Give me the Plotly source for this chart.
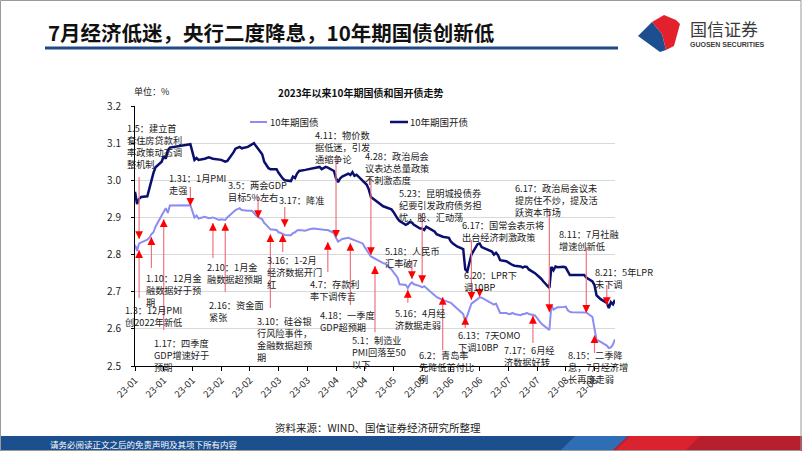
import plotly.graph_objects as go

# ---------------- data ----------------
dates = [
 "2023-01-03","2023-01-04","2023-01-05","2023-01-06","2023-01-09","2023-01-10","2023-01-11","2023-01-12","2023-01-13","2023-01-16","2023-01-17","2023-01-18","2023-01-19","2023-01-20","2023-01-30","2023-01-31",
 "2023-02-01","2023-02-02","2023-02-03","2023-02-06","2023-02-08","2023-02-10","2023-02-13","2023-02-14","2023-02-16","2023-02-17","2023-02-20","2023-02-21","2023-02-23","2023-02-24","2023-02-27",
 "2023-03-01","2023-03-02","2023-03-03","2023-03-06","2023-03-07","2023-03-08","2023-03-09","2023-03-10","2023-03-13","2023-03-14","2023-03-15","2023-03-16","2023-03-17","2023-03-20","2023-03-21","2023-03-22","2023-03-23","2023-03-24","2023-03-27","2023-03-29","2023-03-31",
 "2023-04-03","2023-04-04","2023-04-06","2023-04-07","2023-04-10","2023-04-11","2023-04-12","2023-04-13","2023-04-14","2023-04-17","2023-04-18","2023-04-19","2023-04-20","2023-04-21","2023-04-24","2023-04-25","2023-04-26","2023-04-27","2023-04-28",
 "2023-05-04","2023-05-05","2023-05-08","2023-05-09","2023-05-10","2023-05-11","2023-05-12","2023-05-15","2023-05-16","2023-05-17","2023-05-18","2023-05-19","2023-05-22","2023-05-23","2023-05-24","2023-05-25","2023-05-26","2023-05-29","2023-05-30","2023-05-31",
 "2023-06-01","2023-06-02","2023-06-05","2023-06-06","2023-06-07","2023-06-08","2023-06-09","2023-06-12","2023-06-13","2023-06-14","2023-06-15","2023-06-16","2023-06-19","2023-06-20","2023-06-21","2023-06-26","2023-06-27","2023-06-28","2023-06-29","2023-06-30",
 "2023-07-03","2023-07-04","2023-07-05","2023-07-06","2023-07-07","2023-07-10","2023-07-11","2023-07-12","2023-07-13","2023-07-14","2023-07-17","2023-07-18","2023-07-19","2023-07-20","2023-07-21","2023-07-24","2023-07-25","2023-07-26","2023-07-27","2023-07-28","2023-07-31",
 "2023-08-01","2023-08-02","2023-08-03","2023-08-04","2023-08-07","2023-08-08","2023-08-09","2023-08-10","2023-08-11","2023-08-14","2023-08-15","2023-08-16","2023-08-17","2023-08-18","2023-08-21","2023-08-22","2023-08-23","2023-08-24","2023-08-25"]

cdb_10y = [
 2.969,2.936,2.950,2.955,2.957,2.980,2.995,3.020,3.035,3.050,3.065,3.058,3.080,3.088,3.097,3.072,
 3.055,3.060,3.055,3.058,3.062,3.058,3.056,3.055,3.050,3.052,3.075,3.085,3.090,3.086,3.090,
 3.098,3.100,3.092,3.070,3.050,3.040,3.033,3.030,3.030,3.020,3.012,3.005,3.000,2.998,3.010,3.006,3.018,3.025,3.028,3.030,3.033,
 3.036,3.030,3.036,3.034,3.025,3.005,2.995,3.005,3.010,3.018,3.014,3.022,3.012,3.015,3.000,2.995,2.988,2.975,2.955,
 2.930,2.928,2.922,2.915,2.905,2.897,2.890,2.880,2.883,2.888,2.886,2.880,2.870,2.870,2.866,2.875,2.872,2.862,2.855,2.852,
 2.850,2.848,2.845,2.835,2.830,2.825,2.822,2.815,2.760,2.755,2.775,2.800,2.828,2.830,2.820,2.808,2.800,2.805,2.798,2.785,
 2.782,2.778,2.775,2.772,2.770,2.768,2.765,2.768,2.767,2.760,2.750,2.745,2.742,2.735,2.728,2.710,2.767,2.758,2.768,2.766,2.767,
 2.765,2.755,2.745,2.745,2.746,2.745,2.745,2.745,2.738,2.728,2.718,2.690,2.685,2.680,2.670,2.656,2.672,2.666,2.678]

gov_10y = [
 2.826,2.810,2.830,2.832,2.840,2.845,2.855,2.860,2.875,2.905,2.915,2.925,2.912,2.932,2.933,2.915,
 2.900,2.905,2.897,2.902,2.898,2.900,2.893,2.895,2.893,2.900,2.915,2.920,2.925,2.920,2.918,
 2.918,2.912,2.905,2.895,2.885,2.880,2.875,2.868,2.866,2.860,2.858,2.856,2.853,2.852,2.858,2.860,2.865,2.866,2.864,2.868,2.870,
 2.868,2.867,2.866,2.866,2.858,2.845,2.835,2.838,2.842,2.845,2.843,2.840,2.838,2.835,2.830,2.820,2.812,2.805,2.795,
 2.777,2.775,2.760,2.752,2.745,2.738,2.720,2.718,2.710,2.720,2.725,2.720,2.715,2.712,2.715,2.710,2.705,2.690,2.686,2.683,
 2.680,2.678,2.672,2.670,2.665,2.660,2.655,2.640,2.620,2.635,2.652,2.668,2.680,2.685,2.684,2.670,2.665,2.668,2.655,2.643,
 2.643,2.640,2.640,2.643,2.640,2.637,2.640,2.640,2.643,2.640,2.636,2.629,2.620,2.615,2.610,2.597,2.664,2.652,2.655,2.658,2.659,
 2.660,2.650,2.646,2.645,2.645,2.646,2.645,2.645,2.644,2.632,2.600,2.570,2.568,2.565,2.555,2.548,2.550,2.558,2.572]

tick_vals = ["2023-01-03","2023-01-17","2023-01-31","2023-02-14","2023-02-28","2023-03-14","2023-03-28",
             "2023-04-11","2023-04-25","2023-05-09","2023-05-23","2023-06-06","2023-06-20","2023-07-04",
             "2023-07-18","2023-08-01","2023-08-15"]
tick_text = ["23-01","23-01","23-01","23-02","23-02","23-03","23-03","23-04","23-04","23-05","23-05",
             "23-06","23-06","23-07","23-07","23-08","23-08"]

# events: arrow date, arrow tail value, arrow tip value
event_dates = ["2023-01-05","2023-01-05","2023-01-11","2023-01-17","2023-01-30","2023-02-10","2023-02-16",
               "2023-03-04","2023-03-17","2023-03-16","2023-03-10","2023-04-07","2023-04-11","2023-04-18",
               "2023-04-28","2023-04-30","2023-05-23","2023-05-18","2023-05-16","2023-06-02","2023-06-16",
               "2023-06-20","2023-06-13","2023-07-16","2023-07-24","2023-08-11","2023-08-21","2023-08-15"]
event_from = [3.009,2.683,2.764,2.597,2.982,2.791,2.699,2.958,2.928,2.807,2.656,2.753,3.063,2.664,
              3.009,2.591,2.909,2.785,2.670,2.543,2.839,2.710,2.602,2.562,2.920,2.820,2.718,2.535]
event_to   = [2.842,2.812,2.847,2.895,2.931,2.885,2.885,2.898,2.874,2.855,2.855,2.834,2.845,2.831,
              2.799,2.769,2.723,2.734,2.705,2.686,2.678,2.686,2.632,2.635,2.645,2.643,2.664,2.583]

label_texts = [
 "1.5：建立首<br>套住房贷款利<br>率政策动态调<br>整机制",
 "1.3：12月PMI<br>创2022年新低",
 "1.10：12月金<br>融数据好于预<br>期",
 "1.17：四季度<br>GDP增速好于<br>预期",
 "1.31：1月PMI<br>走强",
 "2.10：1月金<br>融数据超预期",
 "2.16：资金面<br>紧张",
 "3.5：两会GDP<br>目标5%左右",
 "3.17：降准",
 "3.16：1-2月<br>经济数据开门<br>红",
 "3.10：硅谷银<br>行风险事件，<br>金融数据超预<br>期",
 "4.7：存款利<br>率下调传言",
 "4.11：物价数<br>据低迷，引发<br>通缩争论",
 "4.18：一季度<br>GDP超预期",
 "4.28：政治局会<br>议表达总量政策<br>不刺激态度",
 "5.1：制造业<br>PMI回落至50<br>以下",
 "5.23：昆明城投债券<br>纪要引发政府债务担<br>忧，股、汇动荡",
 "5.18：人民币<br>汇率破7",
 "5.16：4月经<br>济数据走弱",
 "6.2：青岛率<br>先降低首付比<br>例",
 "6.17：国常会表示将<br>出台经济刺激政策",
 "6.20：LPR下<br>调10BP",
 "6.13：7天OMO<br>下调10BP",
 "7.17：6月经<br>济数据好转",
 "6.17：政治局会议未<br>提房住不炒，提及活<br>跃资本市场",
 "8.11：7月社融<br>增速创新低",
 "8.21：5年LPR<br>未下调",
 "8.15：二季降<br>息，7月经济增<br>长再度走弱"]

series_names = ["10年期国债", "10年期国开债"]

# ---------------- layout (pixel positions of label boxes, top-left) ----------------
label_xy_px = [(125, 119), (123, 301), (144, 269), (152, 334), (167, 169), (205, 258), (207, 296),
               (226, 176), (277, 191), (265, 251), (255, 312), (308, 275), (313, 126), (318, 306),
               (363, 147), (350, 331), (397, 184), (383, 242), (393, 304), (417, 346), (460, 216),
               (462, 266), (456, 326), (502, 341), (513, 179), (557, 225), (593, 263), (566, 346)]

W, H = 802, 451
L, R, T, B = 135, 615, 106, 366
def px(x):
    return (x - L) / (R - L)
def py(y):
    return (B - y) / (B - T)

FONT = "Noto Sans CJK SC"
C_GOV = "#8C8CF2"
C_CDB = "#0B0F6E"
C_ARROW_LINE = "#EE7480"
C_ARROW_HEAD = "#FF0000"

fig = go.Figure()
fig.add_trace(go.Scatter(x=dates, y=gov_10y, mode="lines", name=series_names[0],
                         line=dict(color=C_GOV, width=2), showlegend=False))
fig.add_trace(go.Scatter(x=dates, y=cdb_10y, mode="lines", name=series_names[1],
                         line=dict(color=C_CDB, width=2.5), showlegend=False))

shapes = []
annotations = []

# arrows
for d, y0, y1 in zip(event_dates, event_from, event_to):
    shapes.append(dict(type="line", xref="x", yref="y", x0=d, x1=d, y0=y0, y1=y1,
                       line=dict(color=C_ARROW_LINE, width=1.2), layer="above"))
    down = y0 > y1
    annotations.append(dict(x=d, y=y1, xref="x", yref="y", text="", showarrow=True,
                            ax=0, ay=(-7 if down else 7), arrowhead=2, arrowsize=1.3,
                            arrowwidth=1.2, arrowcolor=C_ARROW_HEAD, standoff=0))

# labels
for t, (lx, ly) in zip(label_texts, label_xy_px):
    annotations.append(dict(x=px(lx), y=py(ly), xref="paper", yref="paper", text=t, showarrow=False,
                            xanchor="left", yanchor="top", align="left",
                            font=dict(family=FONT, size=9.2, color="#1a1a1a")))

# legend (manual)
shapes.append(dict(type="line", xref="paper", yref="paper", x0=px(250), x1=px(267), y0=py(122), y1=py(122),
                   line=dict(color=C_GOV, width=2)))
shapes.append(dict(type="line", xref="paper", yref="paper", x0=px(390), x1=px(408), y0=py(122), y1=py(122),
                   line=dict(color=C_CDB, width=2.5)))
annotations.append(dict(x=px(268), y=py(122), xref="paper", yref="paper", text=series_names[0],
                        showarrow=False, xanchor="left", yanchor="middle",
                        font=dict(family=FONT, size=9.5, color="#1a1a1a")))
annotations.append(dict(x=px(408), y=py(122), xref="paper", yref="paper", text=series_names[1],
                        showarrow=False, xanchor="left", yanchor="middle",
                        font=dict(family=FONT, size=9.5, color="#1a1a1a")))

# chart title & unit
annotations.append(dict(x=px(360), y=py(92), xref="paper", yref="paper", text="<b>2023年以来10年期国债和国开债走势</b>",
                        showarrow=False, xanchor="center", yanchor="middle",
                        font=dict(family=FONT, size=10, color="#111")))
annotations.append(dict(x=px(132), y=py(91), xref="paper", yref="paper", text="单位：%",
                        showarrow=False, xanchor="left", yanchor="middle",
                        font=dict(family=FONT, size=9, color="#1a1a1a")))
# source
annotations.append(dict(x=px(378), y=py(427), xref="paper", yref="paper", text="资料来源：WIND、国信证券经济研究所整理",
                        showarrow=False, xanchor="center", yanchor="middle",
                        font=dict(family=FONT, size=10.5, color="#1a1a1a")))

# header
annotations.append(dict(x=px(46), y=py(32), xref="paper", yref="paper",
                        text="<b>7月经济低迷，央行二度降息，10年期国债创新低</b>",
                        showarrow=False, xanchor="left", yanchor="middle",
                        font=dict(family=FONT, size=20.5, color="#111")))
shapes.append(dict(type="line", xref="paper", yref="paper", x0=px(45), x1=px(618), y0=py(48), y1=py(48),
                   line=dict(color="#1F4A87", width=3)))
# logo
def path(pts):
    return "M " + " L ".join(f"{px(x)},{py(y)}" for x, y in pts) + " Z"
shapes.append(dict(type="path", xref="paper", yref="paper",
                   path=path([(638, 36), (652, 22), (662, 34), (666, 50), (660, 52)]),
                   fillcolor="#1D4E8F", line=dict(width=0)))
shapes.append(dict(type="path", xref="paper", yref="paper",
                   path=path([(652, 22), (664, 15), (676, 20), (680, 24), (674, 46), (666, 50), (662, 34)]),
                   fillcolor="#E3212D", line=dict(width=0)))
annotations.append(dict(x=px(688), y=py(29), xref="paper", yref="paper", text="国信证券",
                        showarrow=False, xanchor="left", yanchor="middle",
                        font=dict(family=FONT, size=17, color="#3a3a3a")))
annotations.append(dict(x=px(688), y=py(45), xref="paper", yref="paper", text="<b>GUOSEN SECURITIES</b>",
                        showarrow=False, xanchor="left", yanchor="middle",
                        font=dict(family="Liberation Sans Narrow, Liberation Sans", size=7, color="#3a3a3a")))

# footer
shapes.append(dict(type="rect", xref="paper", yref="paper", x0=px(0), x1=px(802), y0=py(451), y1=py(436),
                   fillcolor="#1B4F8E", line=dict(width=0), layer="below"))
shapes.append(dict(type="path", xref="paper", yref="paper",
                   path=path([(560, 451), (575, 436), (640, 436), (625, 451)]),
                   fillcolor="#2F6DB5", line=dict(width=0)))
shapes.append(dict(type="path", xref="paper", yref="paper",
                   path=path([(612, 451), (628, 436), (802, 436), (802, 451)]),
                   fillcolor="#B81F2D", line=dict(width=0)))
shapes.append(dict(type="path", xref="paper", yref="paper",
                   path=path([(615, 451), (630, 436), (700, 436), (685, 451)]),
                   fillcolor="#D9232F", line=dict(width=0)))
annotations.append(dict(x=px(48), y=py(444), xref="paper", yref="paper",
                        text="请务必阅读正文之后的免责声明及其项下所有内容",
                        showarrow=False, xanchor="left", yanchor="middle",
                        font=dict(family=FONT, size=8.5, color="white")))
# page border
shapes.append(dict(type="rect", xref="paper", yref="paper", x0=px(0.5), x1=px(801), y0=py(450.5), y1=py(0.5),
                   line=dict(color="#9A9A9A", width=1), fillcolor="rgba(0,0,0,0)"))

fig.update_layout(
    width=W, height=H,
    margin=dict(l=L, r=W - R, t=T, b=H - B, pad=0),
    paper_bgcolor="white", plot_bgcolor="white",
    showlegend=False,
    shapes=shapes, annotations=annotations,
    font=dict(family=FONT, size=10, color="#222"),
    xaxis=dict(type="date", range=["2023-01-03", "2023-08-25"], tickvals=tick_vals, ticktext=tick_text,
               tickangle=-45, showgrid=False, showline=True, linecolor="#000", linewidth=1,
               ticks="outside", ticklen=4, tickcolor="#000",
               tickfont=dict(family=FONT, size=9.5, color="#222"), zeroline=False),
    yaxis=dict(range=[2.5, 3.2], dtick=0.1, tickformat=".1f", showgrid=True, gridcolor="#D9D9D9",
               gridwidth=1, showline=True, linecolor="#000", linewidth=1, ticks="outside", ticklen=3,
               tickcolor="#000", ticklabelstandoff=8,
               tickfont=dict(family=FONT, size=10, color="#222"), zeroline=False),
)

fig.write_html("out.html")
